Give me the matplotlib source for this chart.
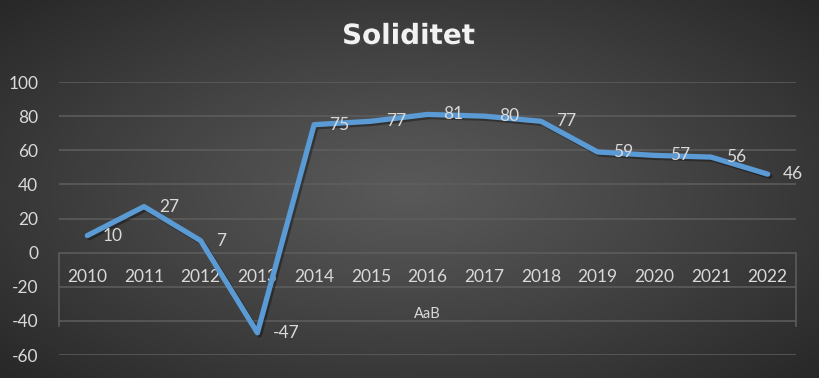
import numpy as np
import matplotlib
matplotlib.use("Agg")
import matplotlib.pyplot as plt
import matplotlib.patheffects as pe

years = ["2010", "2011", "2012", "2013", "2014", "2015", "2016",
         "2017", "2018", "2019", "2020", "2021", "2022"]
soliditet = [10, 27, 7, -47, 75, 77, 81, 80, 77, 59, 57, 56, 46]
yticks = [-60, -40, -20, 0, 20, 40, 60, 80, 100]

plt.rcParams['font.family'] = ['Lato', 'DejaVu Sans']

fig = plt.figure(figsize=(8.19, 3.78), dpi=100)

# radial gradient background
bg = fig.add_axes([0, 0, 1, 1], zorder=-10)
gx, gy = np.meshgrid(np.linspace(-1, 1, 400), np.linspace(-1, 1, 200))
r = np.sqrt(gx ** 2 + (gy * 0.95) ** 2) / np.sqrt(2)
shade = 0.35 - 0.20 * np.clip(r, 0, 1) ** 1.1
bg.imshow(np.dstack([shade] * 3), aspect='auto', extent=[0, 1, 0, 1],
          interpolation='bilinear')
bg.axis('off')

ax = fig.add_axes([0.072, 0.0608, 0.900, 0.7222])
ax.patch.set_alpha(0)
x = np.arange(len(years))

ax.set_xlim(-0.5, len(years) - 0.5)
ax.set_ylim(-60, 100)
ax.set_yticks(yticks)
ax.set_yticklabels([str(v) for v in yticks])
ax.grid(axis='y', color='#5e5e5e', linewidth=1.1)
ax.set_axisbelow(True)
for s in ax.spines.values():
    s.set_visible(False)
ax.tick_params(axis='y', length=0, pad=15, labelsize=12.5, labelcolor='#d9d9d9')
ax.set_xticks([])

# category labels drawn at the zero line, like the excel axis
for xi, lab in zip(x, years):
    ax.text(xi, -14.5, lab, ha='center', va='center', fontsize=12.5, color='#d9d9d9')
ax.text((len(years) - 1) / 2, -36, "AaB", ha='center', va='center',
        fontsize=10.5, color='#d9d9d9')
ax.plot([-0.5, -0.5], [0, -43], color='#5e5e5e', lw=1.1, clip_on=False)
ax.plot([len(years) - 0.5] * 2, [0, -43], color='#5e5e5e', lw=1.1, clip_on=False)

ax.plot(x, soliditet, color='#5b9bd5', lw=3.8, solid_joinstyle='round',
        solid_capstyle='round', zorder=3,
        path_effects=[pe.SimpleLineShadow(offset=(1.5, -1.5), alpha=0.35),
                      pe.Normal()])

for xi, v in zip(x, soliditet):
    ax.annotate(str(v), (xi, v), xytext=(11, 0), textcoords='offset points',
                ha='left', va='center', fontsize=12.5, color='#d9d9d9', zorder=4)

fig.text(0.499, 0.905, "Soliditet", ha='center', va='center', fontsize=20,
         fontweight='bold', family='DejaVu Sans', color='#f2f2f2',
         path_effects=[pe.withSimplePatchShadow(offset=(1.5, -1.5), alpha=0.5)])

fig.savefig("out.png", dpi=100)
